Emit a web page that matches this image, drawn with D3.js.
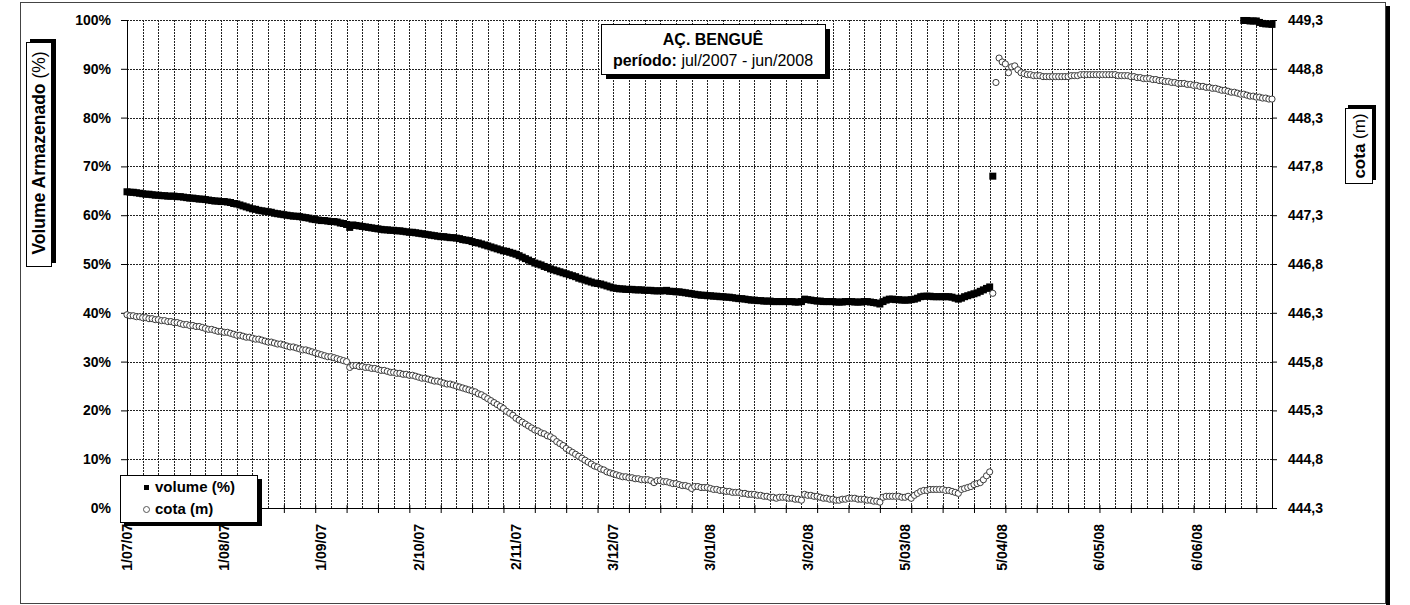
<!DOCTYPE html>
<html>
<head>
<meta charset="utf-8">
<script src="https://cdn.jsdelivr.net/npm/d3@7"></script>
<style>
  body { margin: 0; background: #fff; }
  text { font-family: 'Liberation Sans', Arial, sans-serif; fill: #000; }
</style>
</head>
<body>
<script>
// daily readings, first value = 1 Jul 2007
const startDate = new Date(2007, 6, 1);
const endDate = new Date(2008, 5, 30);

// volume (%) from 1 Jul 2007 to 2 Apr 2008
const volumeA = [
  64.8, 64.7, 64.7, 64.6, 64.5, 64.4, 64.3, 64.3, 64.2, 64.1,
  64.1, 64.0, 64.0, 63.9, 63.9, 63.9, 63.8, 63.8, 63.7, 63.6,
  63.5, 63.5, 63.4, 63.3, 63.3, 63.2, 63.1, 63.0, 62.9, 62.9,
  62.8, 62.8, 62.7, 62.6, 62.4, 62.3, 62.1, 61.9, 61.7, 61.5,
  61.3, 61.2, 61.0, 60.9, 60.8, 60.7, 60.6, 60.4, 60.3, 60.2,
  60.1, 60.0, 59.9, 59.8, 59.8, 59.7, 59.6, 59.5, 59.4, 59.2,
  59.1, 59.0, 58.9, 58.9, 58.8, 58.7, 58.7, 58.6, 58.4, 58.3,
  58.1, 57.5, 58.0, 57.9, 57.8, 57.7, 57.6, 57.5, 57.4, 57.3,
  57.2, 57.1, 57.0, 57.0, 56.9, 56.9, 56.8, 56.8, 56.7, 56.6,
  56.5, 56.5, 56.4, 56.3, 56.2, 56.1, 56.0, 55.9, 55.8, 55.7,
  55.6, 55.6, 55.5, 55.4, 55.4, 55.3, 55.2, 55.0, 54.9, 54.8,
  54.6, 54.4, 54.3, 54.1, 53.9, 53.7, 53.5, 53.3, 53.1, 52.9,
  52.7, 52.6, 52.4, 52.2, 52.0, 51.7, 51.4, 51.1, 50.8, 50.5,
  50.2, 50.0, 49.8, 49.5, 49.3, 49.0, 48.8, 48.6, 48.4, 48.2,
  48.0, 47.8, 47.6, 47.4, 47.1, 46.9, 46.7, 46.5, 46.3, 46.1,
  46.0, 45.9, 45.7, 45.5, 45.3, 45.1, 45.0, 44.9, 44.9, 44.8,
  44.8, 44.8, 44.7, 44.7, 44.7, 44.6, 44.6, 44.6, 44.5, 44.5,
  44.5, 44.5, 44.6, 44.4, 44.4, 44.3, 44.3, 44.2, 44.1, 44.0,
  43.9, 43.8, 43.7, 43.6, 43.6, 43.5, 43.5, 43.4, 43.4, 43.3,
  43.3, 43.2, 43.2, 43.1, 43.0, 42.9, 42.9, 42.8, 42.7, 42.6,
  42.6, 42.5, 42.5, 42.4, 42.4, 42.4, 42.3, 42.3, 42.3, 42.3,
  42.3, 42.3, 42.3, 42.2, 42.2, 42.3, 42.8, 42.7, 42.6, 42.5,
  42.4, 42.4, 42.3, 42.3, 42.3, 42.3, 42.2, 42.2, 42.2, 42.3,
  42.3, 42.3, 42.2, 42.2, 42.2, 42.3, 42.3, 42.2, 42.1, 42.0,
  41.8, 42.3, 42.6, 42.8, 42.8, 42.7, 42.7, 42.6, 42.6, 42.6,
  42.7, 42.8, 43.0, 43.3, 43.4, 43.4, 43.4, 43.3, 43.3, 43.3,
  43.3, 43.3, 43.3, 43.2, 43.0, 42.8, 43.0, 43.3, 43.5, 43.7,
  43.9, 44.1, 44.4, 44.7, 45.0, 45.3, 68.0
];

// volume (%) from 21 Jun 2008 to 30 Jun 2008
const volumeBStart = new Date(2008, 5, 21);
const volumeB = [99.9, 99.9, 99.8, 99.8, 99.8, 99.5, 99.3, 99.2, 99.2, 99.1];

// cota (m), 1 Jul 2007 to 30 Jun 2008
const cota = [
  446.28, 446.27, 446.27, 446.26, 446.26, 446.25, 446.25, 446.24, 446.24, 446.23,
  446.23, 446.22, 446.22, 446.21, 446.21, 446.20, 446.20, 446.19, 446.18, 446.18,
  446.17, 446.17, 446.16, 446.16, 446.15, 446.14, 446.13, 446.13, 446.12, 446.11,
  446.11, 446.10, 446.10, 446.09, 446.08, 446.07, 446.07, 446.06, 446.05, 446.05,
  446.04, 446.03, 446.03, 446.02, 446.01, 446.00, 446.00, 445.99, 445.98, 445.98,
  445.97, 445.96, 445.95, 445.95, 445.94, 445.93, 445.92, 445.92, 445.91, 445.90,
  445.89, 445.88, 445.87, 445.86, 445.85, 445.85, 445.84, 445.83, 445.82, 445.81,
  445.80, 445.74, 445.76, 445.76, 445.75, 445.75, 445.74, 445.74, 445.73, 445.73,
  445.72, 445.71, 445.71, 445.70, 445.69, 445.69, 445.68, 445.68, 445.67, 445.67,
  445.66, 445.66, 445.65, 445.64, 445.63, 445.63, 445.62, 445.61, 445.60, 445.60,
  445.59, 445.58, 445.57, 445.57, 445.56, 445.55, 445.54, 445.53, 445.52, 445.51,
  445.50, 445.49, 445.47, 445.46, 445.44, 445.42, 445.40, 445.38, 445.36, 445.34,
  445.32, 445.29, 445.27, 445.25, 445.22, 445.20, 445.18, 445.16, 445.14, 445.12,
  445.10, 445.09, 445.07, 445.06, 445.04, 445.03, 445.01, 444.98, 444.96, 444.94,
  444.91, 444.89, 444.87, 444.85, 444.83, 444.81, 444.79, 444.77, 444.75, 444.73,
  444.72, 444.70, 444.69, 444.67, 444.66, 444.65, 444.64, 444.63, 444.62, 444.62,
  444.61, 444.61, 444.60, 444.60, 444.59, 444.59, 444.59, 444.58, 444.56, 444.58,
  444.58, 444.57, 444.57, 444.56, 444.55, 444.55, 444.54, 444.53, 444.53, 444.52,
  444.50, 444.52, 444.52, 444.51, 444.51, 444.51, 444.50, 444.49, 444.49, 444.48,
  444.48, 444.47, 444.47, 444.46, 444.46, 444.46, 444.45, 444.45, 444.44, 444.44,
  444.44, 444.43, 444.43, 444.42, 444.42, 444.41, 444.41, 444.40, 444.41, 444.41,
  444.41, 444.40, 444.40, 444.39, 444.39, 444.38, 444.44, 444.43, 444.43, 444.42,
  444.42, 444.41, 444.40, 444.40, 444.39, 444.39, 444.38, 444.38, 444.39, 444.39,
  444.40, 444.40, 444.40, 444.39, 444.39, 444.39, 444.38, 444.38, 444.37, 444.37,
  444.36, 444.41, 444.42, 444.42, 444.42, 444.42, 444.42, 444.41, 444.41, 444.42,
  444.40, 444.43, 444.45, 444.47, 444.48, 444.48, 444.49, 444.49, 444.49, 444.49,
  444.49, 444.48, 444.48, 444.47, 444.46, 444.45, 444.49, 444.50, 444.51, 444.52,
  444.54, 444.55, 444.56, 444.59, 444.63, 444.67, 446.50, 448.66, 448.91, 448.87,
  448.85, 448.76, 448.82, 448.83, 448.79, 448.76, 448.75, 448.74, 448.74, 448.73,
  448.73, 448.73, 448.72, 448.72, 448.72, 448.72, 448.72, 448.72, 448.72, 448.72,
  448.72, 448.73, 448.73, 448.73, 448.74, 448.74, 448.74, 448.74, 448.74, 448.74,
  448.74, 448.74, 448.74, 448.74, 448.74, 448.74, 448.73, 448.73, 448.73, 448.73,
  448.72, 448.72, 448.71, 448.71, 448.70, 448.70, 448.70, 448.69, 448.69, 448.68,
  448.68, 448.67, 448.67, 448.66, 448.66, 448.65, 448.65, 448.65, 448.64, 448.64,
  448.63, 448.63, 448.62, 448.62, 448.61, 448.61, 448.60, 448.60, 448.59, 448.58,
  448.58, 448.57, 448.56, 448.56, 448.55, 448.54, 448.54, 448.53, 448.52, 448.52,
  448.51, 448.51, 448.50, 448.50, 448.49, 448.49
];

const dateLabels = ['1/07/07', '1/08/07', '1/09/07', '2/10/07', '2/11/07', '3/12/07',
  '3/01/08', '3/02/08', '5/03/08', '5/04/08', '6/05/08', '6/06/08'];
const volumeTicks = [0, 10, 20, 30, 40, 50, 60, 70, 80, 90, 100];
const cotaTicks = [444.3, 444.8, 445.3, 445.8, 446.3, 446.8, 447.3, 447.8, 448.3, 448.8, 449.3];

const W = 1410, H = 605;
const plot = { left: 127, right: 1272, top: 20, bottom: 508 };

const svg = d3.select('body').append('svg')
  .attr('width', W)
  .attr('height', H);

const x = d3.scaleTime().domain([startDate, endDate]).range([plot.left, plot.right]);
const y = d3.scaleLinear().domain([0, 100]).range([plot.bottom, plot.top]);
const y2 = d3.scaleLinear().domain([444.3, 449.3]).range([plot.bottom, plot.top]);

const crisp = v => Math.round(v) + 0.5;

// outer frame + shadow
svg.append('rect')
  .attr('x', 1386).attr('y', 6).attr('width', 4).attr('height', H)
  .attr('fill', '#000');
svg.append('rect')
  .attr('x', 20.5).attr('y', 2.5).attr('width', 1365).attr('height', 601)
  .attr('fill', 'none').attr('stroke', '#444');

// gridlines
const grid = svg.append('g');
const gridDays = d3.range(5, 365, 5).map(d => d3.timeDay.offset(startDate, d));
grid.selectAll('.vgrid').data(gridDays).enter().append('line')
  .attr('x1', d => crisp(x(d))).attr('x2', d => crisp(x(d)))
  .attr('y1', plot.top).attr('y2', plot.bottom)
  .attr('stroke', '#222').attr('stroke-dasharray', '2,1');
grid.selectAll('.hgrid').data(volumeTicks.slice(1)).enter().append('line')
  .attr('x1', plot.left).attr('x2', plot.right)
  .attr('y1', d => crisp(y(d))).attr('y2', d => crisp(y(d)))
  .attr('stroke', '#222').attr('stroke-dasharray', '2,1');

// axes
const axisStyle = g => {
  g.select('.domain').remove();
  g.selectAll('line').attr('stroke', '#000');
  g.selectAll('text').attr('font-size', 14).attr('font-weight', 'bold')
    .style('font-family', "'Liberation Sans', Arial, sans-serif");
};

svg.append('g')
  .attr('transform', `translate(${plot.left},0)`)
  .call(d3.axisLeft(y).tickValues(volumeTicks).tickSize(6).tickPadding(10)
    .tickFormat(d => d + '%'))
  .call(axisStyle);

svg.append('g')
  .attr('transform', `translate(${plot.right},0)`)
  .call(d3.axisRight(y2).tickValues(cotaTicks).tickSize(5).tickPadding(11)
    .tickFormat(d => d.toFixed(1).replace('.', ',')))
  .call(axisStyle);

const tickDays = d3.range(0, 366, 10).map(d => d3.timeDay.offset(startDate, d));
svg.append('g')
  .attr('transform', `translate(0,${plot.bottom})`)
  .call(d3.axisBottom(x).tickValues(tickDays).tickSize(5).tickFormat(''))
  .call(axisStyle)
  .selectAll('.tick line').attr('y1', -3);

// axis lines
svg.append('line')
  .attr('x1', plot.left + 0.5).attr('x2', plot.left + 0.5)
  .attr('y1', plot.top).attr('y2', plot.bottom + 0.5)
  .attr('stroke', '#000');
svg.append('line')
  .attr('x1', plot.right + 0.5).attr('x2', plot.right + 0.5)
  .attr('y1', plot.top).attr('y2', plot.bottom + 0.5)
  .attr('stroke', '#000');
svg.append('line')
  .attr('x1', plot.left).attr('x2', plot.right + 1)
  .attr('y1', plot.bottom + 0.5).attr('y2', plot.bottom + 0.5)
  .attr('stroke', '#000');

// date labels
const parseLabel = d3.timeParse('%d/%m/%y');
svg.append('g').selectAll('text').data(dateLabels).enter().append('text')
  .attr('transform', d => `translate(${x(parseLabel(d))},524) rotate(-90)`)
  .attr('dy', '0.35em')
  .attr('text-anchor', 'end')
  .attr('font-size', 14)
  .attr('font-weight', 'bold')
  .text(d => d);

// series
const volData = volumeA.map((v, i) => ({ date: d3.timeDay.offset(startDate, i), v }))
  .concat(volumeB.map((v, i) => ({ date: d3.timeDay.offset(volumeBStart, i), v })));
const cotaData = cota.map((v, i) => ({ date: d3.timeDay.offset(startDate, i), v }));

svg.append('g').selectAll('rect').data(volData).enter().append('rect')
  .attr('x', d => x(d.date) - 3.5)
  .attr('y', d => y(d.v) - 3.5)
  .attr('width', 7).attr('height', 7)
  .attr('fill', '#000');

svg.append('g').selectAll('circle').data(cotaData).enter().append('circle')
  .attr('cx', d => x(d.date))
  .attr('cy', d => y2(d.v))
  .attr('r', 3.1)
  .attr('fill', '#fff')
  .attr('stroke', '#3a3a3a')
  .attr('stroke-width', 1);

// title box
svg.append('rect').attr('x', 606).attr('y', 29).attr('width', 224).attr('height', 50).attr('fill', '#000');
svg.append('rect').attr('x', 601.5).attr('y', 24.5).attr('width', 224).attr('height', 50)
  .attr('fill', '#fff').attr('stroke', '#000');
svg.append('text').attr('x', 713).attr('y', 45).attr('text-anchor', 'middle')
  .attr('font-size', 16).attr('font-weight', 'bold').text('AÇ. BENGUÊ');
const t2 = svg.append('text').attr('x', 713).attr('y', 66).attr('text-anchor', 'middle')
  .attr('font-size', 16);
t2.append('tspan').attr('font-weight', 'bold').text('período:');
t2.append('tspan').text(' jul/2007 - jun/2008');

// left axis title
svg.append('rect').attr('x', 30).attr('y', 39).attr('width', 26).attr('height', 224).attr('fill', '#000');
svg.append('rect').attr('x', 26.5).attr('y', 42.5).attr('width', 25).attr('height', 224)
  .attr('fill', '#fff').attr('stroke', '#000');
const lt = svg.append('text').attr('transform', 'translate(39,153) rotate(-90)')
  .attr('text-anchor', 'middle').attr('dy', '0.35em').attr('font-size', 17.5);
lt.append('tspan').attr('font-weight', 'bold').text('Volume Armazenado');
lt.append('tspan').text(' (%)');

// right axis title
svg.append('rect').attr('x', 1348).attr('y', 105).attr('width', 28).attr('height', 75).attr('fill', '#000');
svg.append('rect').attr('x', 1345.5).attr('y', 108.5).attr('width', 27).attr('height', 75)
  .attr('fill', '#fff').attr('stroke', '#000');
const rt = svg.append('text').attr('transform', 'translate(1359,146) rotate(-90)')
  .attr('text-anchor', 'middle').attr('dy', '0.35em').attr('font-size', 17);
rt.append('tspan').attr('font-weight', 'bold').text('cota');
rt.append('tspan').text(' (m)');

// legend
const legend = svg.append('g');
legend.append('rect').attr('x', 124).attr('y', 479).attr('width', 138).attr('height', 47).attr('fill', '#000');
legend.append('rect').attr('x', 120.5).attr('y', 475.5).attr('width', 137).attr('height', 47)
  .attr('fill', '#fff').attr('stroke', '#000');
legend.append('rect').attr('x', 144).attr('y', 485).attr('width', 5).attr('height', 5).attr('fill', '#000');
legend.append('text').attr('x', 155).attr('y', 492).attr('font-size', 15).attr('font-weight', 'bold')
  .text('volume (%)');
legend.append('circle').attr('cx', 146.5).attr('cy', 509.5).attr('r', 3)
  .attr('fill', '#fff').attr('stroke', '#555');
legend.append('text').attr('x', 155).attr('y', 514).attr('font-size', 15).attr('font-weight', 'bold')
  .text('cota (m)');
</script>
</body>
</html>
